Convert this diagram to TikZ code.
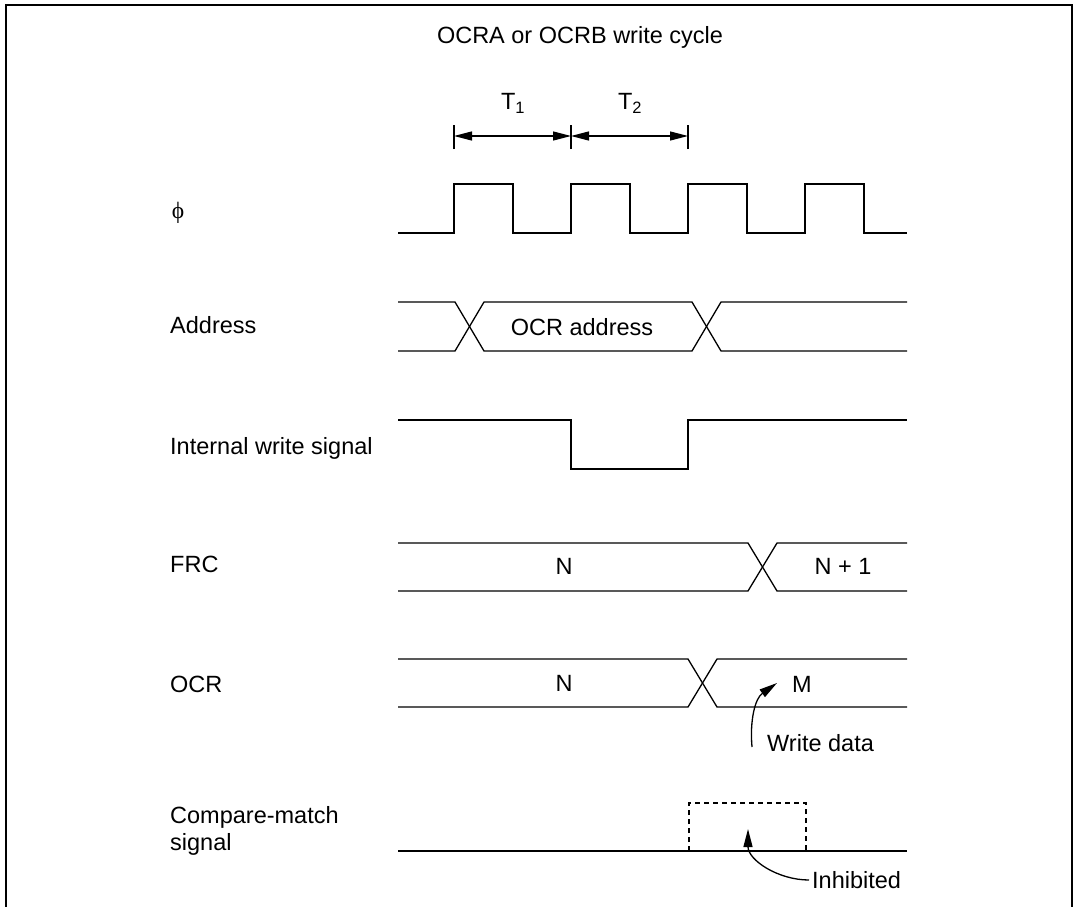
\documentclass[tikz,border=0pt]{standalone}
\usepackage{fontspec}
\setmainfont{Liberation Sans}
\newfontfamily\phifont{Liberation Serif}
\usetikzlibrary{arrows.meta}

\begin{document}
\begin{tikzpicture}[x=1pt, y=-1pt, >={Triangle[length=18pt,width=9pt]},
  sig/.style={line width=1.3pt, line join=miter},
  txt/.style={font=\fontsize{23.5}{27}\selectfont, inner sep=0pt, text height=16.8pt, text depth=0pt},
  lbl/.style={txt, anchor=west}]

  \useasboundingbox (0,0) rectangle (1076,907);

  % --- 1. frame and title ---
  \draw[line width=2.6pt] (6,910) -- (6,5) -- (1072,5) -- (1072,910);
  \node[txt] (title) at (580,35) {OCRA or OCRB write cycle};

  % --- 2. T1 / T2 ---
  \coordinate (e0) at (454,136);
  \coordinate (e1) at (571,136);
  \coordinate (e2) at (688,136);
  \foreach \e in {e0,e1,e2}
    \draw[sig] ([yshift=-13pt]\e) -- ([yshift=11pt]\e);
  \draw[sig, <->] (e0) -- (e1);
  \draw[sig, <->] (e1) -- (e2);
  \node[txt] (t1) at (513,101) {T\textsubscript{1}};
  \node[txt] (t2) at (630,101) {T\textsubscript{2}};

  % --- 3. signal names ---
  \node[txt] (phi) at (178,210) {\phifont ϕ};
  \node[lbl] (addr) at (170,325) {Address};
  \node[lbl] (iws) at (170,446) {Internal write signal};
  \node[lbl] (frc) at (170,564) {FRC};
  \node[lbl] (ocr) at (170,684) {OCR};
  \node[txt, anchor=north west, align=left, text height=] (cms) at (170,806) {Compare-match\\signal};

  % --- 4. waveforms ---
  % clock
  \draw[sig] (398,233) \foreach \k in {0,...,3} {
      -- ({454+117*\k},233) -- ({454+117*\k},184)
      -- ({513+117*\k},184) -- ({513+117*\k},233) } -- (907,233);
  % address
  \draw[sig] (398,302) -- (455,302) -- (484,351) -- (692,351) -- (721,302) -- (907,302);
  \draw[sig] (398,351) -- (455,351) -- (484,302) -- (692,302) -- (721,351) -- (907,351);
  \node[txt] (oa) at (582,327) {OCR address};
  % internal write
  \draw[sig] (398,420) -- (571,420) -- (571,469) -- (688,469) -- (688,420) -- (907,420);
  % FRC
  \draw[sig] (398,543) -- (748,543) -- (777,591) -- (907,591);
  \draw[sig] (398,591) -- (748,591) -- (777,543) -- (907,543);
  \node[txt] (fn) at (564,566) {N};
  \node[txt] (fn1) at (843,566) {N + 1};
  % OCR
  \draw[sig] (398,659) -- (688,659) -- (717,707) -- (907,707);
  \draw[sig] (398,707) -- (688,707) -- (717,659) -- (907,659);
  \node[txt] (on) at (564,683) {N};
  \node[txt] (om) at (802,684) {M};
  % compare-match
  \draw[sig] (398,851) -- (907,851);
  \draw[line width=1.2pt, dash pattern=on 5pt off 4pt] (689,851) -- (689,803) -- (806,803) -- (806,851);

  % --- 5. notes ---
  \node[lbl] (wd) at (767,743) {Write data};
  \coordinate (wdtip) at (777,683);
  \draw[sig, ->] ([xshift=-15pt,yshift=-4pt]wd.west) to[out=95, in=215] (wdtip);
  \node[lbl] (inh) at (812,880) {Inhibited};
  \coordinate (inhtip) at (748,829);
  \draw[sig, ->] ([xshift=-3pt]inh.west) to[out=180, in=-90] (inhtip);

\end{tikzpicture}
\end{document}
